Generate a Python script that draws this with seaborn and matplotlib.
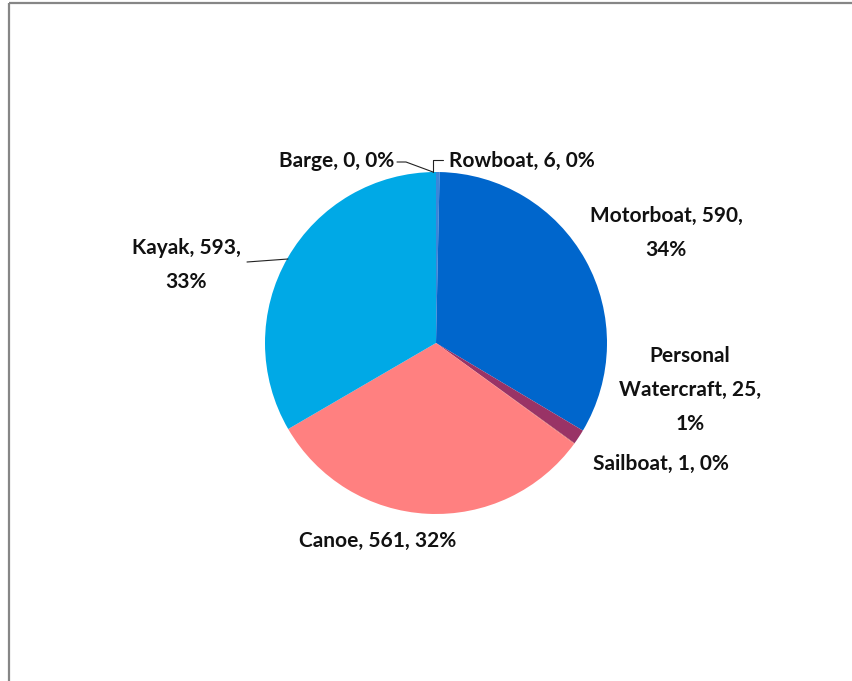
import matplotlib
matplotlib.use("Agg")
import matplotlib.pyplot as plt
from matplotlib.lines import Line2D
import seaborn as sns
import numpy as np

# Boat types by count, ordered clockwise from 12 o'clock
categories = ["Rowboat", "Motorboat", "Personal Watercraft", "Sailboat", "Canoe", "Kayak", "Barge"]
counts = [6, 590, 25, 1, 561, 593, 0]
pct_labels = ["0%", "34%", "1%", "0%", "32%", "33%", "0%"]
colors = ["#3C86D8", "#0066CC", "#993366", "#C0504D", "#FF8080", "#00A9E6", "#7F7F7F"]

sns.set_theme(style="white")
plt.rcParams["font.family"] = ["Lato", "DejaVu Sans"]

W, H = 852, 681
fig = plt.figure(figsize=(W / 100, H / 100), dpi=100)
fig.patch.set_facecolor("white")

# chart frame (top and left edges visible)
fig.add_artist(Line2D([9 / W, 9 / W], [0, 1 - 3 / H], transform=fig.transFigure,
                      color="#868686", lw=1.6, solid_capstyle="butt"))
fig.add_artist(Line2D([9 / W, 1], [1 - 3 / H, 1 - 3 / H], transform=fig.transFigure,
                      color="#868686", lw=1.6, solid_capstyle="butt"))

cx, cy, r = 436, 343, 171
ax = fig.add_axes([(cx - r) / W, (H - cy - r) / H, 2 * r / W, 2 * r / H])
ax.pie(counts, colors=colors, startangle=90, counterclock=False, radius=1,
       wedgeprops=dict(linewidth=0))
ax.set_xlim(-1, 1)
ax.set_ylim(-1, 1)
ax.set_aspect("equal")
ax.axis("off")


def px(x, y):
    """pixel position -> pie data coordinates"""
    return (x - cx) / r, (cy - y) / r


def make_label(cat, n, p):
    wrap = {
        "Motorboat": "Motorboat, {n},\n{p}",
        "Personal Watercraft": "Personal\nWatercraft, {n},\n{p}",
        "Kayak": "Kayak, {n},\n{p}",
    }
    return wrap.get(cat, cat + ", {n}, {p}").format(n=n, p=p)


# label anchor (pixel), horizontal alignment
placement = {
    "Rowboat": ((449, 161), "left"),
    "Motorboat": ((666, 233), "center"),
    "Personal Watercraft": ((690, 390), "center"),
    "Sailboat": ((661, 464), "center"),
    "Canoe": ((378, 541), "center"),
    "Kayak": ((186, 265), "center"),
    "Barge": ((394, 161), "right"),
}
for cat, n, p in zip(categories, counts, pct_labels):
    (x, y), ha = placement[cat]
    tx, ty = px(x, y)
    ax.text(tx, ty, make_label(cat, n, p), ha=ha, va="center", fontsize=15,
            fontweight="bold", color="#111111", linespacing=1.9, clip_on=False)

# leader lines
leaders = [
    [(433, 172), (433, 160), (443, 160)],
    [(433, 172), (406, 162), (397, 162)],
    [(288, 259), (247, 262)],
]
for pts in leaders:
    xs, ys = zip(*[px(*p) for p in pts])
    ax.plot(xs, ys, color="#222222", lw=0.8, clip_on=False)

fig.savefig("out.png", dpi=100, facecolor="white")
